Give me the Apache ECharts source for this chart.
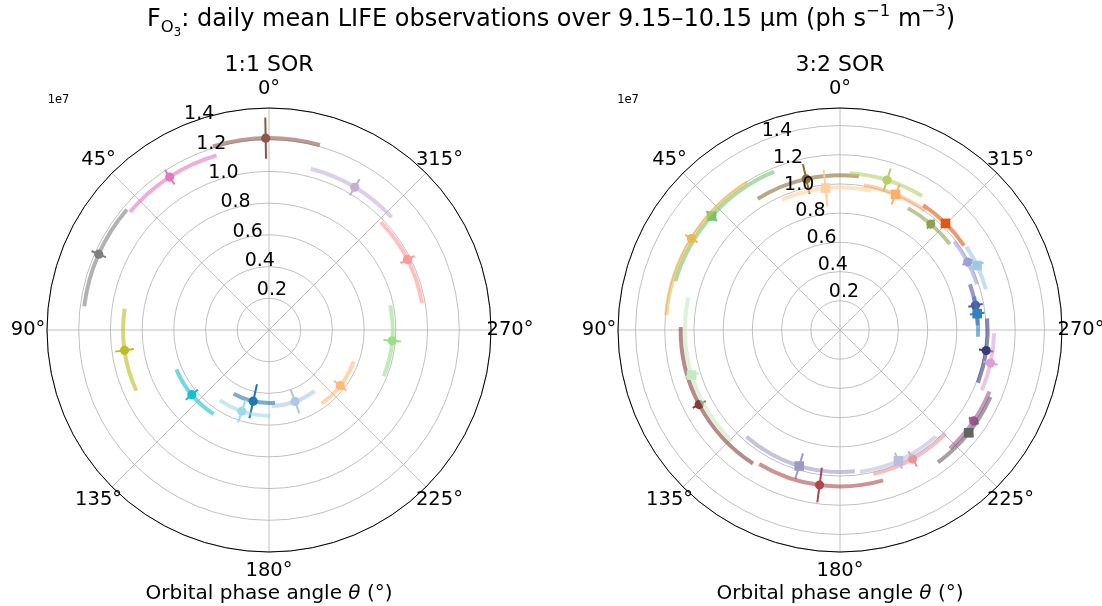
<!DOCTYPE html>
<html lang="en">
<head>
<meta charset="UTF-8" />
<title>F_O3 daily mean LIFE observations</title>
<script src="https://cdn.jsdelivr.net/npm/echarts@6/dist/echarts.min.js"></script>
<style>
  * { margin: 0; padding: 0; }
  #charts { width: 1102px; height: 606px; }
</style>
</head>
<body>
<div id="charts"></div>
<script>
// radii in units of 1e7 ph s^-1 m^-3, angles in degrees

// 1:1 SOR
var theta11 = [1, 329, 297, 265, 232, 200, 167.5, 161.5, 130, 98, 66, 33];
var flux11 = [1.21, 1.05, 0.98, 0.78, 0.57, 0.48, 0.46, 0.54, 0.635, 0.92, 1.175, 1.15];
var err11 = [0.13, 0.06, 0.05, 0.055, 0.05, 0.08, 0.11, 0.075, 0.05, 0.06, 0.05, 0.055];
var arcFrom11 = [344.6, 312.6, 280, 248, 215.5, 182, 151, 145, 113, 81.6, 49.7, 16.7];
var arcTo11 = [17, 345.5, 314, 281.5, 249.7, 216.7, 184.7, 181, 146.7, 114.6, 82.7, 49.7];

// 3:2 SOR
var theta32 = [12.6, 5.8, 342.6, 337.7, 319.4, 315.3, 298, 295.2, 280.3, 276.8, 262, 257.6,
  235.8, 231.4, 209.4, 204.1, 163.3, 172.5, 117.9, 106.9, 48.4, 58.4];
var flux32 = [1.06, 0.977, 1.076, 1.003, 0.955, 1.027, 0.99, 1.037, 0.943, 0.946, 1.011, 1.055,
  1.107, 1.128, 1.013, 0.98, 0.972, 1.071, 1.091, 1.062, 1.175, 1.194];
var err32 = [0.105, 0.125, 0.083, 0.073, 0.04, 0.04, 0.04, 0.05, 0.05, 0.05, 0.05, 0.05,
  0.04, 0.04, 0.06, 0.06, 0.09, 0.12, 0.05, 0.05, 0.05, 0.05];
var arcFrom32 = [353, 347.3, 328.5, 324.6, 308, 304.2, 288.5, 285.6, 272, 267.2, 249.1, 247,
  222.9, 216.5, 193, 188, 138.8, 148.9, 88.9, 77.7, 22.6, 32.1];
var arcTo32 = [32.1, 24, 356.3, 350.6, 330.9, 326.3, 307.8, 303.4, 289.4, 284, 274.5, 268.8,
  247.6, 246, 225.5, 222, 186, 196, 146.9, 135.9, 73.5, 85.1];

var angleTicks = [0, 45, 90, 135, 180, 225, 270, 315];
var radiusTicks = [0.2, 0.4, 0.6, 0.8, 1.0, 1.2, 1.4];

// styles
var colors11 = ['#8c564b', '#c5b0d5', '#ff9896', '#98df8a', '#ffbb78', '#aec7e8',
  '#1f77b4', '#9edae5', '#17becf', '#bcbd22', '#7f7f7f', '#e377c2'];
var colors32 = ['#8c6d31', '#fdd0a2', '#b5cf6b', '#fdae6b', '#8ca252', '#e6550d', '#9c9ede', '#9ecae1',
  '#5254a3', '#3182bd', '#393b79', '#de9ed6', '#a55194', '#636363', '#e7969c', '#bcbddc',
  '#9e9ac8', '#ad494a', '#843c39', '#c7e9c0', '#74c476', '#e7ba52'];
var shapes32 = ['circle', 'rect', 'circle', 'rect', 'circle', 'rect', 'circle', 'rect',
  'circle', 'rect', 'circle', 'circle', 'circle', 'rect', 'circle', 'rect',
  'rect', 'circle', 'circle', 'rect', 'rect', 'circle'];

var FONT = 'DejaVu Sans';
var GRID = '#b0b0b0';
var C1 = [269, 330], C2 = [840, 330];

function rows(theta, flux, err, from, to) {
  return theta.map(function (t, i) {
    return [flux[i], t, err[i], from[i], to[i]];
  });
}

function drawObs(colors, shapes) {
  return function (params, api) {
    var i = params.dataIndex;
    var r = api.value(0), th = api.value(1), e = api.value(2);
    var c = api.coord([0, th]);
    var p = api.coord([r, th]);
    var a = api.coord([r, api.value(3)]);
    var b = api.coord([r, api.value(4)]);
    var lo = api.coord([r - e, th]);
    var hi = api.coord([r + e, th]);
    var col = colors[i];
    var marker = shapes && shapes[i] === 'rect'
      ? { type: 'rect', shape: { x: p[0] - 4.8, y: p[1] - 4.8, width: 9.6, height: 9.6 }, style: { fill: col } }
      : { type: 'circle', shape: { cx: p[0], cy: p[1], r: 4.6 }, style: { fill: col } };
    return {
      type: 'group',
      children: [
        {
          type: 'arc',
          shape: {
            cx: c[0], cy: c[1], r: Math.hypot(p[0] - c[0], p[1] - c[1]),
            startAngle: Math.atan2(a[1] - c[1], a[0] - c[0]),
            endAngle: Math.atan2(b[1] - c[1], b[0] - c[0]),
            clockwise: false
          },
          style: { stroke: col, lineWidth: 4, opacity: 0.6, fill: 'none' }
        },
        { type: 'line', shape: { x1: lo[0], y1: lo[1], x2: hi[0], y2: hi[1] }, style: { stroke: col, lineWidth: 2 } },
        marker
      ]
    };
  };
}

function angleAxis(idx, show) {
  return {
    polarIndex: idx, type: 'value', min: 0, max: 360, interval: 45,
    startAngle: 90, clockwise: false, show: show, z: 2,
    axisLine: { show: true, lineStyle: { color: '#000', width: 1 } },
    axisTick: { show: false }, axisLabel: { show: false },
    splitLine: { show: true, lineStyle: { color: GRID, width: 0.8 } }
  };
}

function radiusAxis(idx, max, show) {
  return {
    polarIndex: idx, type: 'value', min: 0, max: max, interval: 0.2, show: show, z: 1,
    axisLine: { show: false }, axisTick: { show: false }, axisLabel: { show: false },
    splitLine: { show: true, lineStyle: { color: GRID, width: 0.8 } }
  };
}

function angleLabels(idx) {
  return {
    type: 'scatter', coordinateSystem: 'polar', polarIndex: idx, symbolSize: 0, silent: true, z: 5,
    itemStyle: { opacity: 1 },
    data: angleTicks.map(function (a) { return [1, a]; }),
    label: {
      show: true, position: 'inside', color: '#000', opacity: 1, fontFamily: FONT, fontSize: 19.5,
      formatter: function (p) { return p.value[1] + '°'; }
    }
  };
}

function radiusLabels(idx) {
  return {
    type: 'scatter', coordinateSystem: 'polar', polarIndex: idx, symbolSize: 0, silent: true, z: 5,
    itemStyle: { opacity: 1 },
    data: radiusTicks.map(function (v) { return [v, 22.5]; }),
    label: {
      show: true, position: [0, 0], align: 'left', verticalAlign: 'bottom', opacity: 1,
      color: '#000', fontFamily: FONT, fontSize: 19, lineHeight: 21,
      formatter: function (p) { return p.value[0].toFixed(1); }
    }
  };
}

var myEcharts = echarts.init(document.getElementById('charts'));

function tok(size, extra) {
  var s = { fontFamily: FONT, fontSize: size, fontWeight: 'normal', color: '#000' };
  for (var k in extra) s[k] = extra[k];
  return s;
}

var xName = '{n|Orbital phase angle }{i|θ}{n| (°)}';
var xNameStyle = {
  fontWeight: 'normal',
  rich: {
    n: tok(20, { lineHeight: 20 }),
    i: tok(20, { lineHeight: 20, fontStyle: 'italic' })
  }
};

var options = {
  animation: false,
  backgroundColor: '#fff',
  title: [
    {
      text: '{n|F}{sub|O}{ss|3}{n|: daily mean LIFE observations over 9.15–10.15 µm (ph s}{sup|−1}{n| m}{sup|−3}{n|)}',
      left: 'center', top: 0, padding: 0,
      textStyle: {
        fontWeight: 'normal',
        rich: {
          n: tok(24, { lineHeight: 40 }),
          sub: tok(16.5, { height: 24, verticalAlign: 'bottom' }),
          ss: tok(11.7, { height: 14, verticalAlign: 'bottom' }),
          sup: tok(16.5, { height: 24, verticalAlign: 'top' })
        }
      }
    },
    { text: '1:1 SOR', left: C1[0], top: 54.5, textAlign: 'center', padding: 0,
      textStyle: tok(22, { lineHeight: 22 }) },
    { text: '3:2 SOR', left: C2[0], top: 54.5, textAlign: 'center', padding: 0,
      textStyle: tok(22, { lineHeight: 22 }) },
    { text: xName, left: C1[0], top: 584, textAlign: 'center', padding: 0, textStyle: xNameStyle },
    { text: xName, left: C2[0], top: 584, textAlign: 'center', padding: 0, textStyle: xNameStyle },
    { text: '1e7', left: 58.5, top: 93, textAlign: 'center', padding: 0,
      textStyle: tok(11.5, { lineHeight: 14 }) },
    { text: '1e7', left: 628, top: 93, textAlign: 'center', padding: 0,
      textStyle: tok(11.5, { lineHeight: 14 }) }
  ],
  polar: [
    { center: C1, radius: 222 },
    { center: C2, radius: 222 },
    { center: C1, radius: 241 },
    { center: C2, radius: 241 }
  ],
  angleAxis: [angleAxis(0, true), angleAxis(1, true), angleAxis(2, false), angleAxis(3, false)],
  radiusAxis: [radiusAxis(0, 1.4, true), radiusAxis(1, 1.52, true), radiusAxis(2, 1, false), radiusAxis(3, 1, false)],
  series: [
    {
      type: 'custom', coordinateSystem: 'polar', polarIndex: 0, z: 3, silent: true,
      data: rows(theta11, flux11, err11, arcFrom11, arcTo11),
      renderItem: drawObs(colors11, null)
    },
    {
      type: 'custom', coordinateSystem: 'polar', polarIndex: 1, z: 3, silent: true,
      data: rows(theta32, flux32, err32, arcFrom32, arcTo32),
      renderItem: drawObs(colors32, shapes32)
    },
    radiusLabels(0),
    radiusLabels(1),
    angleLabels(2),
    angleLabels(3)
  ]
};

myEcharts.setOption(options);
</script>
</body>
</html>
